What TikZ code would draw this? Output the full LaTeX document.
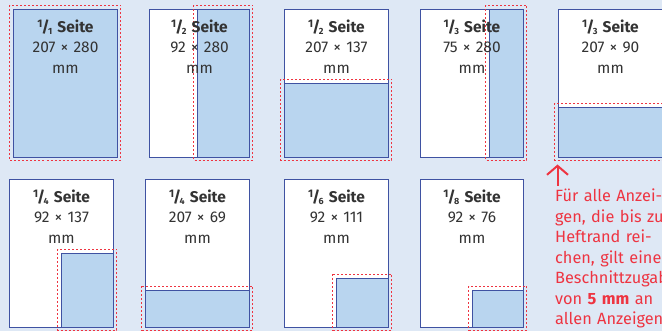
\documentclass[tikz,border=0pt]{standalone}
\usepackage{fontspec}
\setmainfont{Fira Sans}
\usetikzlibrary{arrows.meta}
\definecolor{bgblue}{HTML}{DEE8F5}
\definecolor{adblue}{HTML}{B9D5EF}
\definecolor{rimblue}{HTML}{3F52A2}
\definecolor{cutred}{HTML}{EE3441}
\definecolor{txtgray}{HTML}{333333}
% fraction like 1/4
\newcommand\frc[2]{\raisebox{.3em}{\fontsize{11}{10}\selectfont #1}\kern-.06em
  /\kern-.1em\raisebox{-.15em}{\fontsize{9}{8}\selectfont #2}}

\begin{document}
\begin{tikzpicture}[% styles used in image code
    x = 1pt, y = -1pt,
         > = Straight Barb, % defined in "arrows.meta
page/.style = {draw=rimblue, fill=white, line width=1pt},
  ad/.style = {draw=rimblue, fill=adblue, line width=1pt},
bleed/.style = {draw=cutred, line width=1pt,
                dash pattern=on 2pt off 2pt},
 lbl/.style = {text=txtgray, align=center, text width=100pt,
               inner sep=0pt, anchor=base,
               font=\fontsize{15.5}{20.5}\selectfont},
note/.style = {text=cutred, align=left, text width=160pt,
               inner sep=0pt, anchor=base west,
               font=\fontsize{16.3}{20.5}\selectfont}
                        ]
    % background
    \fill[bgblue] (0,0) rectangle (662,331);
    \clip (0,0) rectangle (662,331);

    % pages: name / page corners / ad corners / fraction / size
    \foreach \n/\px/\py/\qx/\qy/\ax/\ay/\bx/\by/\fr/\dims in {
        p1/13.5/9.5/117.5/157.5/13.5/9.5/117.5/157.5/{\frc{1}{1}}/207 × 280,
        p2/149.5/9.5/249.5/157.5/197.5/9.5/249.5/157.5/{\frc{1}{2}}/92 × 280,
        p3/284.5/9.5/388.5/157.5/284.5/83.5/388.5/157.5/{\frc{1}{2}}/207 × 137,
        p4/420.5/9.5/523.5/157.5/489.5/9.5/523.5/157.5/{\frc{1}{3}}/75 × 280,
        p5/558.5/9.5/662.5/157.5/558.5/107.5/662.5/157.5/{\frc{1}{3}}/207 × 90,
        p6/9.5/179.5/113.5/327.5/61.5/253.5/113.5/327.5/{\frc{1}{4}}/92 × 137,
        p7/145.5/179.5/249.5/327.5/145.5/290.5/249.5/327.5/{\frc{1}{4}}/207 × 69,
        p8/284.5/179.5/388.5/327.5/336.5/278.5/388.5/327.5/{\frc{1}{6}}/92 × 111,
        p9/420.5/179.5/523.5/327.5/472.5/290.5/523.5/327.5/{\frc{1}{8}}/92 × 76}
    {
        \draw[page] (\px,\py) rectangle (\qx,\qy);
        \draw[ad] (\ax,\ay) rectangle (\bx,\by);
        \draw[bleed] (\ax-4,\ay-4) rectangle (\bx+3,\by+3);
        \node[lbl] (\n) at ({(\px+\qx)/2},{\py+22.8})
            {\textbf{\fr\ Seite}\\ \dims\\ mm};
    }

    % note on bleed
    \coordinate (tail) at (557.5,186);
    \coordinate (tip) at (557.5,164.5);
    \draw[cutred, line width=2pt,
          arrows={-Straight Barb[length=9pt, width=21pt]}] (tail) -- (tip);
    \node[note] (hinweis) at (555,201.7)
        {Für alle Anzei-\\ gen, die bis zur\\ Heftrand rei-\\
         chen, gilt eine\\ Beschnittzugabe\\ von \textbf{5 mm} an\\
         allen Anzeigen};
\end{tikzpicture}
\end{document}
